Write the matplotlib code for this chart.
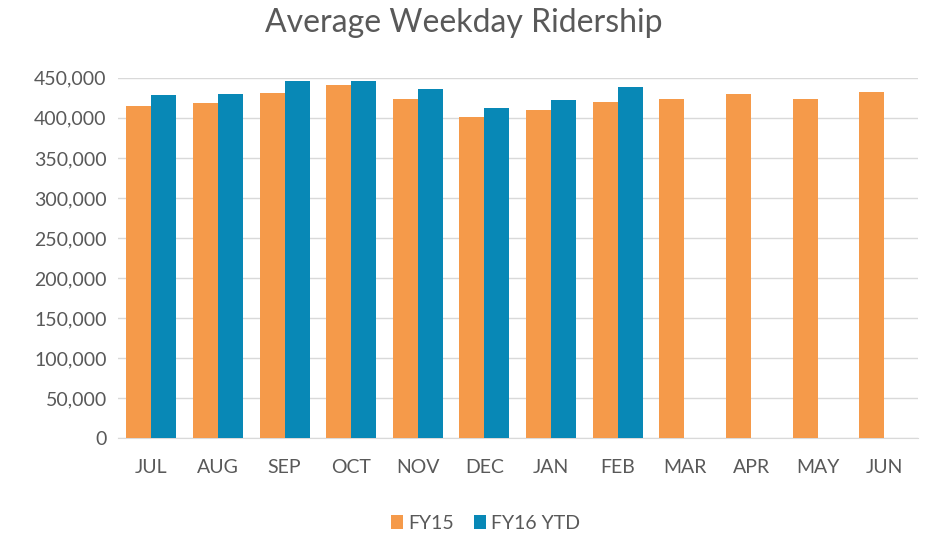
import matplotlib.pyplot as plt
import numpy as np
from matplotlib.ticker import FuncFormatter

# Values
months = ["JUL", "AUG", "SEP", "OCT", "NOV", "DEC", "JAN", "FEB", "MAR", "APR", "MAY", "JUN"]
fy15 = [414500, 418500, 430500, 440500, 424000, 400500, 410000, 420000, 424000, 430000, 424000, 432000]
fy16_ytd = [428500, 430000, 446000, 446000, 436000, 412000, 422000, 438500]

plt.rcParams['font.family'] = ['Lato', 'DejaVu Sans']
text_color = "#595959"

fig = plt.figure(figsize=(9.28, 5.33), dpi=100)
ax = fig.add_axes([0.127, 0.178, 0.862, 0.676])

x = np.arange(len(months))
bar_width = 0.375

ax.bar(x - bar_width / 2, fy15, width=bar_width, color="#F59A4A", label="FY15", zorder=3)
ax.bar(x[:len(fy16_ytd)] + bar_width / 2, fy16_ytd, width=bar_width, color="#0888B6", label="FY16 YTD", zorder=3)

ax.set_xlim(-0.5, len(months) - 0.5)
ax.set_ylim(0, 450000)
ax.set_yticks(np.arange(0, 450001, 50000))
ax.yaxis.set_major_formatter(FuncFormatter(lambda v, p: f"{int(v):,}"))
ax.set_xticks(x)
ax.set_xticklabels(months)

ax.grid(axis="y", color="#D9D9D9", linewidth=1, zorder=0)
for side in ["top", "right", "left"]:
    ax.spines[side].set_visible(False)
ax.spines["bottom"].set_color("#D9D9D9")
ax.tick_params(axis="both", length=0, colors=text_color, labelsize=14)
ax.tick_params(axis="x", pad=15)
ax.tick_params(axis="y", pad=8)

fig.suptitle("Average Weekday Ridership", y=0.985, fontsize=23, color=text_color)

ax.legend(loc="upper center", bbox_to_anchor=(0.46, -0.165), ncol=2, frameon=False,
          fontsize=14, labelcolor=text_color, handlelength=0.6, handleheight=0.7,
          columnspacing=1.0, handletextpad=0.3)

plt.savefig("out.png", dpi=100)
